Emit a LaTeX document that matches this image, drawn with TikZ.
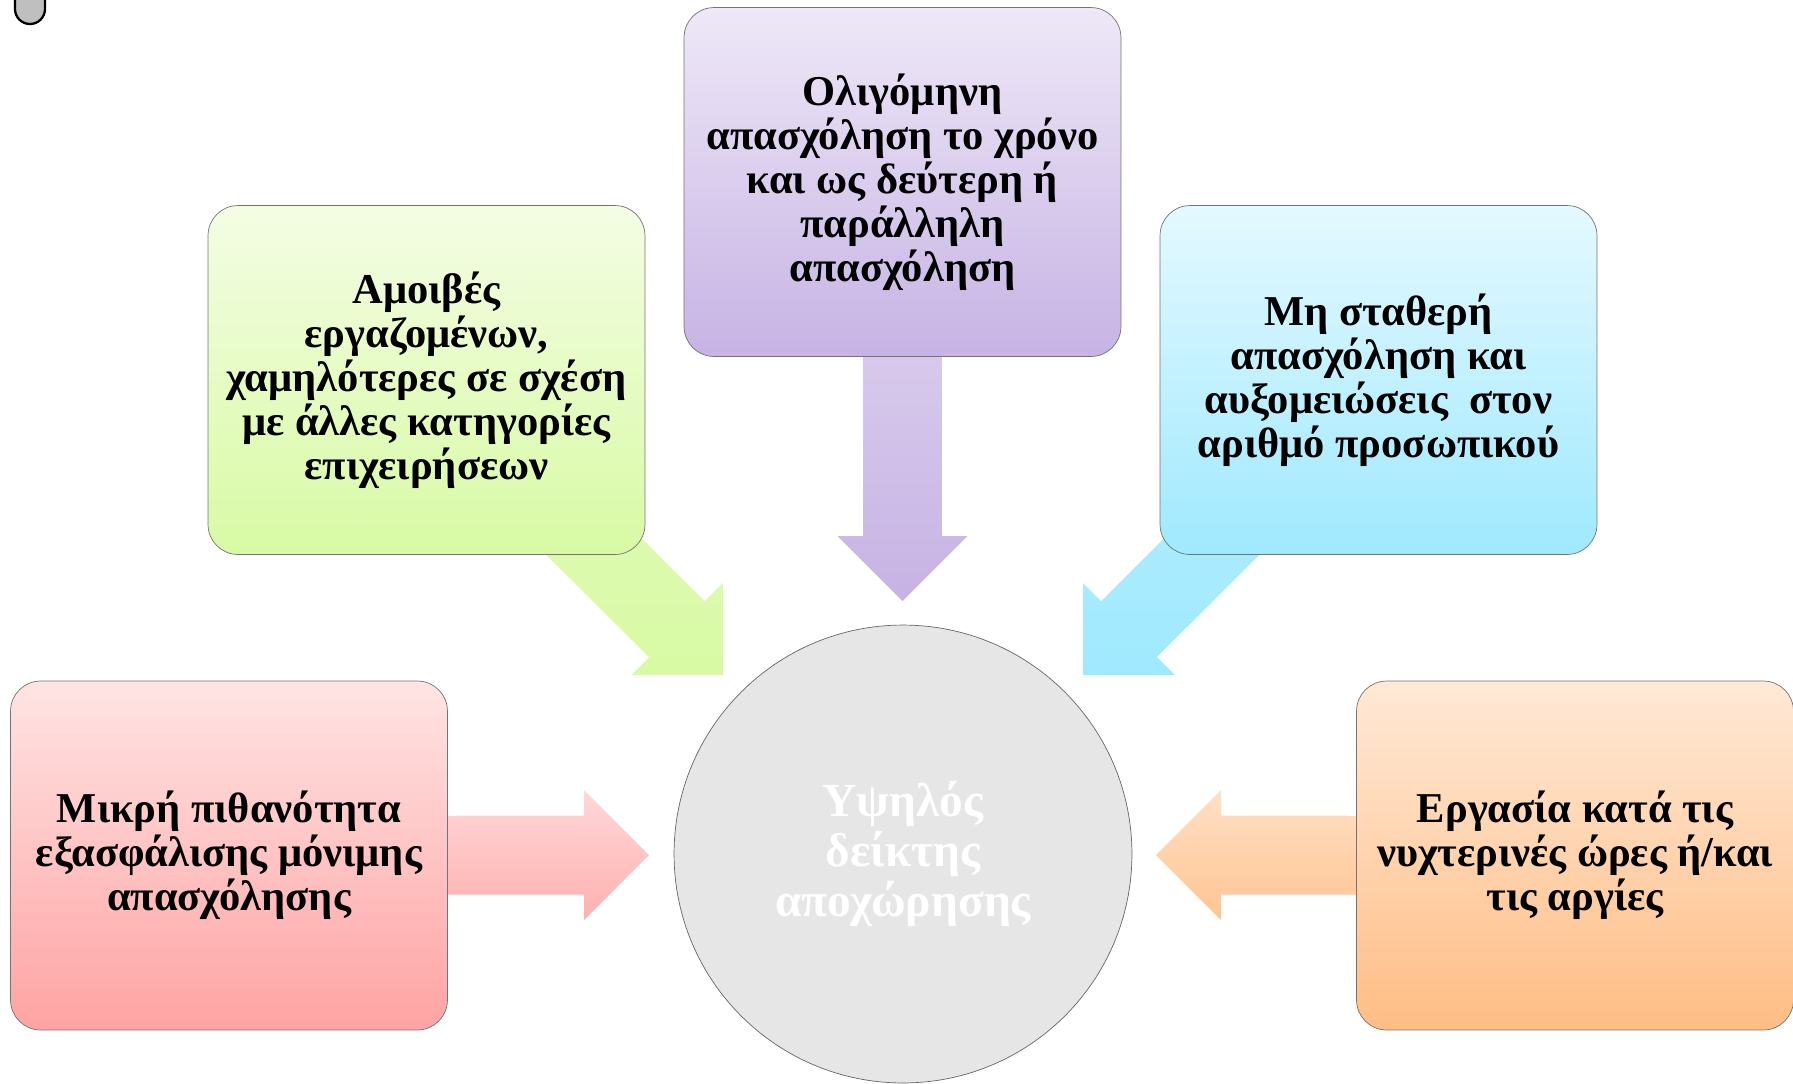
\documentclass[tikz,border=0pt]{standalone}
\usepackage{fontspec}
\setmainfont{Liberation Serif}
\usetikzlibrary{positioning, calc, backgrounds}

\definecolor{lilacTop}{HTML}{EEE8F7}
\definecolor{lilacBot}{HTML}{C7B3E4}
\definecolor{limeTop}{HTML}{F4FDE4}
\definecolor{limeBot}{HTML}{D8FAA4}
\definecolor{skyTop}{HTML}{E4F9FF}
\definecolor{skyBot}{HTML}{9FE9FE}
\definecolor{roseTop}{HTML}{FFE4E4}
\definecolor{roseBot}{HTML}{FFA3A3}
\definecolor{peachTop}{HTML}{FFE9D6}
\definecolor{peachBot}{HTML}{FFBD85}
\definecolor{hubGray}{HTML}{E6E6E6}

% block arrow from #1 to the tip #2, fill options #3
\newcommand{\blockarrow}[3]{%
  \coordinate (ab) at ($(#2)!1.3cm!(#1.center)$);
  \path[#3] ($(#1.center)!0.79cm!90:(#2)$) -- ($(ab)!0.79cm!90:(#2)$)
    -- ($(ab)!1.3cm!90:(#2)$) -- (#2) -- ($(ab)!1.3cm!-90:(#2)$)
    -- ($(ab)!0.79cm!-90:(#2)$) -- ($(#1.center)!0.79cm!-90:(#2)$) -- cycle;
}

\begin{document}
\begin{tikzpicture}[
    x=0.02cm, y=-0.02cm,
    cause/.style={draw=black!55, rectangle, rounded corners=0.6cm, minimum width=8.74cm, minimum height=6.98cm, align=center, font=\fontsize{24.2}{25}\selectfont\bfseries},
    hub/.style={draw=black!60, circle, fill=hubGray, minimum size=9.16cm, align=center, text=white, font=\fontsize{27}{28.5}\selectfont\bfseries}
]
    \useasboundingbox (0,0) rectangle (1793,1083);

    \draw[fill=black!25, line width=1.3pt, rounded corners=0.3cm] (15,-30) rectangle (45,24);

    \node[hub] (core) at (903,854) {Υψηλός\\δείκτης\\αποχώρησης};

    \node[cause, top color=lilacTop, bottom color=lilacBot] (season) at (902.5,182) {Ολιγόμηνη\\απασχόληση το χρόνο\\και ως δεύτερη ή\\παράλληλη\\απασχόληση};
    \node[cause, top color=limeTop, bottom color=limeBot] (pay) at (426.5,380) {Αμοιβές\\εργαζομένων,\\χαμηλότερες σε σχέση\\με άλλες κατηγορίες\\επιχειρήσεων};
    \node[cause, top color=skyTop, bottom color=skyBot] (staff) at (1378.5,380) {Μη σταθερή\\απασχόληση και\\αυξομειώσεις\ \ στον\\αριθμό προσωπικού};
    \node[cause, top color=roseTop, bottom color=roseBot] (tenure) at (229,855.5) {Μικρή πιθανότητα\\εξασφάλισης μόνιμης\\απασχόλησης};
    \node[cause, top color=peachTop, bottom color=peachBot] (shift) at (1575,855.5) {Εργασία κατά τις\\νυχτερινές ώρες ή/και\\τις αργίες};

    \coordinate (seasonTip) at (902.5,601);
    \coordinate (payTip) at (723,675);
    \coordinate (staffTip) at (1083,675);
    \coordinate (tenureTip) at (649,855);
    \coordinate (shiftTip) at (1156,855);

    \begin{scope}[on background layer]
        \blockarrow{season}{seasonTip}{top color=lilacTop!70!lilacBot, bottom color=lilacBot}
        \blockarrow{pay}{payTip}{top color=limeTop!40!limeBot, bottom color=limeBot}
        \blockarrow{staff}{staffTip}{top color=skyTop!40!skyBot, bottom color=skyBot}
        \blockarrow{tenure}{tenureTip}{top color=roseTop!80!roseBot, bottom color=roseBot!80!roseTop}
        \blockarrow{shift}{shiftTip}{top color=peachTop!80!peachBot, bottom color=peachBot!85!peachTop}
    \end{scope}
\end{tikzpicture}
\end{document}
